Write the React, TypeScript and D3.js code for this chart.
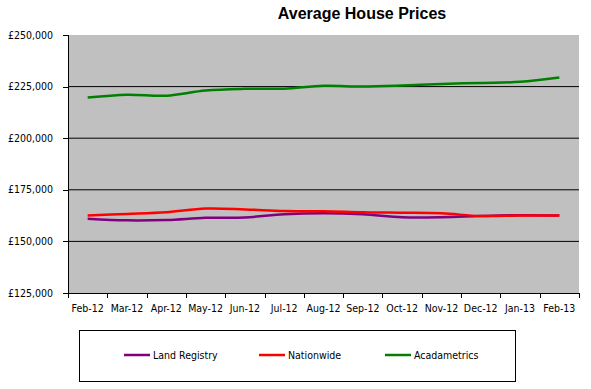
import * as d3 from "d3";

const months = [
  "Feb-12", "Mar-12", "Apr-12", "May-12", "Jun-12", "Jul-12", "Aug-12",
  "Sep-12", "Oct-12", "Nov-12", "Dec-12", "Jan-13", "Feb-13",
];

const landRegistry = [
  161000, 160200, 160400, 161400, 161600, 163100, 163600, 163100, 161700,
  161700, 162300, 162700, 162600,
];
const nationwide = [
  162600, 163300, 164100, 165900, 165500, 164700, 164600, 164100, 163900,
  163600, 162300, 162500, 162600,
];
const acadametrics = [
  219700, 221100, 220600, 223100, 223900, 224000, 225400, 225000, 225500,
  226300, 226800, 227300, 229400,
];

const seriesNames = ["Land Registry", "Nationwide", "Acadametrics"];
const seriesColors = ["#800080", "#ff0000", "#008000"];
const yTicks = [125000, 150000, 175000, 200000, 225000, 250000];

const W = 591;
const H = 389;
const plot = { left: 68, right: 579, top: 35, bottom: 293 };
const labelFont = "'DejaVu Sans Condensed', 'DejaVu Sans', sans-serif";

export default function App() {
  const series = [landRegistry, nationwide, acadametrics];

  const x = d3
    .scaleBand<string>()
    .domain(months)
    .range([plot.left, plot.right]);
  const y = d3
    .scaleLinear()
    .domain([125000, 250000])
    .range([plot.bottom, plot.top]);

  const line = d3
    .line<number>()
    .x((_, i) => (x(months[i]) ?? 0) + x.bandwidth() / 2)
    .y((d) => y(d))
    .curve(d3.curveCatmullRom.alpha(0.5));

  const fmt = (v: number) => "£" + d3.format(",")(v);

  // legend item positions
  const legendX = [124, 259, 385];
  const legendY = 355;

  return (
    <svg
      width={W}
      height={H}
      style={{ position: "absolute", left: 0, top: 0, background: "#fff" }}
    >
      <text
        x={362}
        y={19}
        textAnchor="middle"
        fontFamily="'Liberation Sans', Arial, sans-serif"
        fontWeight="bold"
        fontSize={16}
      >
        Average House Prices
      </text>

      <rect
        x={plot.left}
        y={plot.top}
        width={plot.right - plot.left}
        height={plot.bottom - plot.top}
        fill="#c0c0c0"
      />

      {/* grid */}
      {yTicks
        .filter((t) => t !== 125000 && t !== 250000)
        .map((t) => (
          <line
            key={t}
            x1={plot.left}
            x2={plot.right}
            y1={y(t)}
            y2={y(t)}
            stroke="#000"
            strokeWidth={1}
          />
        ))}

      {/* y axis */}
      <line
        x1={plot.left + 0.5}
        x2={plot.left + 0.5}
        y1={plot.top}
        y2={plot.bottom + 5}
        stroke="#000"
      />
      {yTicks.map((t) => (
        <g key={t}>
          <line
            x1={plot.left - 5}
            x2={plot.left}
            y1={Math.round(y(t)) + 0.5}
            y2={Math.round(y(t)) + 0.5}
            stroke="#000"
          />
          <text
            x={53}
            y={y(t)}
            dy="0.35em"
            textAnchor="end"
            fontFamily={labelFont}
            fontSize={10.5}
          >
            {fmt(t)}
          </text>
        </g>
      ))}

      {/* x axis */}
      <line
        x1={plot.left - 5}
        x2={plot.right}
        y1={plot.bottom + 0.5}
        y2={plot.bottom + 0.5}
        stroke="#000"
      />
      {[...months.map((m) => x(m) ?? 0), plot.right].map((px, i) => (
        <line
          key={i}
          x1={Math.round(px) + 0.5}
          x2={Math.round(px) + 0.5}
          y1={plot.bottom}
          y2={plot.bottom + 5}
          stroke="#000"
        />
      ))}
      {months.map((m) => (
        <text
          key={m}
          x={(x(m) ?? 0) + x.bandwidth() / 2}
          y={308}
          dy="0.35em"
          textAnchor="middle"
          fontFamily={labelFont}
          fontSize={10.5}
        >
          {m}
        </text>
      ))}

      {/* series */}
      {series.map((s, i) => (
        <path
          key={seriesNames[i]}
          d={line(s) ?? ""}
          fill="none"
          stroke={seriesColors[i]}
          strokeWidth={2.5}
        />
      ))}

      {/* legend */}
      <rect
        x={79.5}
        y={330.5}
        width={436}
        height={51}
        fill="#fff"
        stroke="#000"
        strokeWidth={1}
      />
      {seriesNames.map((n, i) => (
        <g key={n}>
          <line
            x1={legendX[i]}
            x2={legendX[i] + 26}
            y1={legendY}
            y2={legendY}
            stroke={seriesColors[i]}
            strokeWidth={2.5}
          />
          <text
            x={legendX[i] + 29}
            y={legendY}
            dy="0.35em"
            fontFamily={labelFont}
            fontSize={10.5}
          >
            {n}
          </text>
        </g>
      ))}
    </svg>
  );
}
